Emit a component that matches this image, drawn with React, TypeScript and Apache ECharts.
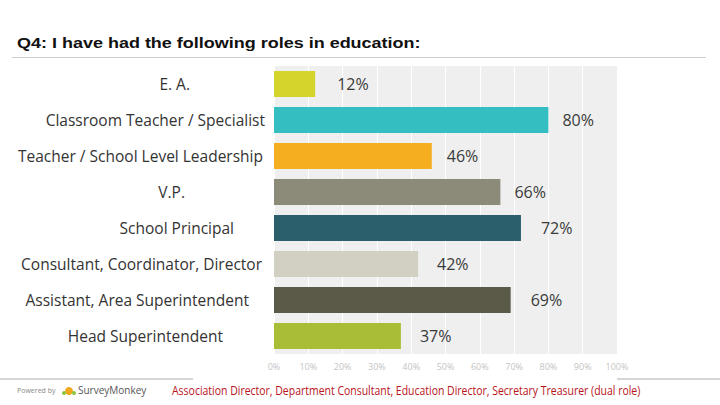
import React, { useEffect, useRef } from "react";
import * as echarts from "echarts";

const categories = [
  "E. A.",
  "Classroom Teacher / Specialist",
  "Teacher / School Level Leadership",
  "V.P.",
  "School Principal",
  "Consultant, Coordinator, Director",
  "Assistant, Area Superintendent",
  "Head Superintendent",
];
const values = [12, 80, 46, 66, 72, 42, 69, 37];
const barColors = ["#d3d42c", "#35bec1", "#f5ae1f", "#8c8b7a", "#2c5f6c", "#d1d0c2", "#5b5a49", "#a9bd37"];
const tickLabels = ["0%", "10%", "20%", "30%", "40%", "50%", "60%", "70%", "80%", "90%", "100%"];
const title = "Q4: I have had the following roles in education:";
const footnote = "Association Director, Department Consultant, Education Director, Secretary Treasurer (dual role)";
// styling only: right padding per category label, gap of each value label
const labelPad = [75, 0, 2, 80, 31, 3, 16, 42];
const valueGap = [22, 14, 15, 14, 20, 19, 20, 19];

export default function App() {
  const ref = useRef<HTMLDivElement>(null);
  useEffect(() => {
    if (!ref.current) return;
    const chart = echarts.init(ref.current, undefined, { renderer: "svg" });
    const rich: Record<string, any> = {};
    labelPad.forEach((p, i) => {
      rich["a" + i] = {
        fontFamily: "Open Sans",
        fontSize: 15.5,
        color: "#333",
        padding: [0, p, 0, 0],
      };
    });
    chart.setOption({
      animation: false,
      backgroundColor: "#ffffff",
      grid: {
        left: 274,
        right: 103,
        top: 66,
        bottom: 51,
        show: true,
        backgroundColor: "#efefef",
        borderWidth: 0,
      },
      xAxis: {
        type: "value",
        min: 0,
        max: 100,
        interval: 10,
        axisLine: { show: false },
        axisTick: { show: false },
        splitLine: { show: true, lineStyle: { color: "#ffffff", width: 1 } },
        axisLabel: {
          formatter: (v: number) => tickLabels[Math.round(v / 10)],
          color: "#c4c4c4",
          fontSize: 9,
          fontFamily: "Open Sans",
          margin: 8,
        },
      },
      yAxis: {
        type: "category",
        data: categories,
        inverse: true,
        axisLine: { show: false },
        axisTick: { show: false },
        splitLine: { show: false },
        axisLabel: {
          margin: 9,
          formatter: (v: string) => {
            const i = categories.indexOf(v);
            return "{a" + i + "|" + v + "}";
          },
          rich,
        },
      },
      series: [
        {
          type: "bar",
          data: values.map((v, i) => ({
            value: v,
            itemStyle: { color: barColors[i] },
            label: { distance: valueGap[i] },
          })),
          barCategoryGap: "28%",
          label: {
            show: true,
            position: "right",
            distance: 15,
            formatter: "{c}%",
            color: "#3a3a3a",
            fontSize: 16,
            fontFamily: "Open Sans",
          },
        },
      ],
      graphic: [
        {
          type: "text",
          x: 17,
          y: 36,
          scaleX: 1.2,
          style: {
            text: title,
            fontFamily: "Liberation Sans",
            fontWeight: "bold",
            fontSize: 15,
            fill: "#111",
          },
        },
        {
          type: "line",
          shape: { x1: 12, y1: 57.5, x2: 706, y2: 57.5 },
          style: { stroke: "#cfcfcf", lineWidth: 1 },
        },
        {
          type: "line",
          shape: { x1: 0, y1: 379, x2: 193, y2: 379 },
          style: { stroke: "#d5d5d5", lineWidth: 2 },
        },
        {
          type: "line",
          shape: { x1: 617, y1: 379, x2: 720, y2: 379 },
          style: { stroke: "#d5d5d5", lineWidth: 2 },
        },
        {
          type: "text",
          x: 17,
          y: 387,
          style: { text: "Powered by", fontFamily: "Open Sans", fontSize: 7, fill: "#888" },
        },
        {
          type: "circle",
          shape: { cx: 69, cy: 391, r: 4 },
          style: { fill: "#f0a81c" },
        },
        {
          type: "circle",
          shape: { cx: 64, cy: 393, r: 2 },
          style: { fill: "#8bc53f" },
        },
        {
          type: "circle",
          shape: { cx: 74, cy: 393, r: 2 },
          style: { fill: "#8bc53f" },
        },
        {
          type: "text",
          x: 78,
          y: 385,
          style: { text: "SurveyMonkey", fontFamily: "Open Sans", fontSize: 10, fill: "#555" },
        },
        {
          type: "text",
          x: 172,
          y: 384,
          scaleX: 0.873,
          style: { text: footnote, fontFamily: "Open Sans", fontSize: 12, fill: "#b8141b" },
        },
      ],
    });
    return () => chart.dispose();
  }, []);
  return <div ref={ref} style={{ width: 720, height: 405, position: "absolute", left: 0, top: 0 }} />;
}
